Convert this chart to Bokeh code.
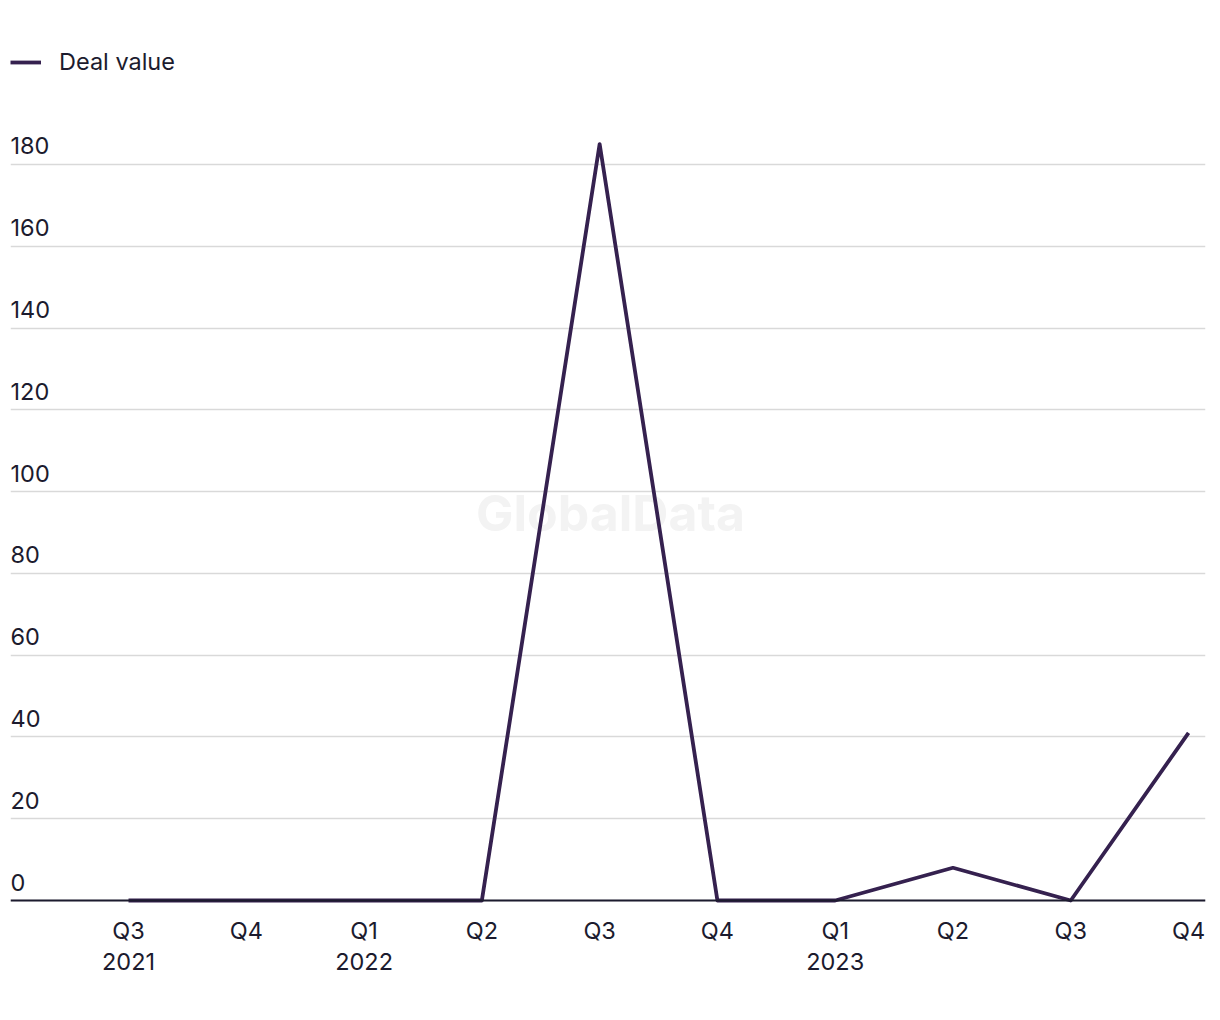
from bokeh.plotting import figure
from bokeh.models import Range1d, FixedTicker, Span, Legend, LegendItem, LabelSet, Label, ColumnDataSource
from bokeh.core.properties import value
from bokeh.embed import file_html
from bokeh.resources import INLINE

quarters = ["Q3\n2021", "Q4", "Q1\n2022", "Q2", "Q3", "Q4", "Q1\n2023", "Q2", "Q3", "Q4"]
deal_value = [0, 0, 0, 0, 185, 0, 0, 8, 0, 41]
y_ticks = [0, 20, 40, 60, 80, 100, 120, 140, 160, 180]

FONT = "Inter"
FS = "23.5px"
TXT = "#1c1b2e"
LINE = "#35214f"

xs = list(range(len(quarters)))
px_per_unit = 4.0889

p = figure(width=1220, height=1020, output_backend="svg", toolbar_location=None,
           x_range=Range1d(-1.002, 9.144),
           y_range=Range1d(-5 / px_per_unit, 880 / px_per_unit),
           min_border_left=10, min_border_right=15, min_border_top=20, min_border_bottom=115)
p.outline_line_color = None
p.background_fill_color = "white"
p.yaxis.visible = False
p.xgrid.visible = False
p.ygrid.ticker = FixedTicker(ticks=y_ticks)
p.ygrid.grid_line_color = "#d9d9d9"
p.ygrid.grid_line_width = 1.5

p.xaxis.ticker = FixedTicker(ticks=xs)
p.xaxis.major_label_overrides = {i: q for i, q in enumerate(quarters)}
p.xaxis.axis_line_color = None
p.xaxis.major_tick_line_color = None
p.xaxis.minor_tick_line_color = None
p.xaxis.major_label_text_font = FONT
p.xaxis.major_label_text_font_size = FS
p.xaxis.major_label_text_color = TXT
p.xaxis.major_label_text_line_height = 1.08
p.xaxis.major_label_standoff = 4

# watermark
p.add_layout(Label(x=600, y=393, x_units="screen", y_units="screen", text="GlobalData",
                   text_font=FONT, text_font_style="bold", text_font_size="50px",
                   text_color="#f3f3f3", text_align="center", text_baseline="middle",
                   level="underlay"))

p.add_layout(Span(location=0, dimension="width", line_color=TXT, line_width=2))

r = p.line(xs, deal_value, line_color=LINE, line_width=3.8, line_join="round")

src = ColumnDataSource(dict(y=y_ticks, t=[str(v) for v in y_ticks], x=[0] * len(y_ticks)))
p.add_layout(LabelSet(x="x", y="y", text="t", source=src, x_units="screen", y_offset=10,
                      text_font=value(FONT), text_font_size=value(FS), text_color=TXT,
                      text_align="left", text_baseline="bottom"))

legend = Legend(items=[LegendItem(label="Deal value", renderers=[r])],
                location=(0, 829), padding=0, margin=0, spacing=0,
                border_line_color=None, background_fill_alpha=0,
                glyph_width=31, glyph_height=20, label_standoff=18,
                label_text_font=FONT, label_text_font_size=FS, label_text_color=TXT)
p.add_layout(legend)

open("out.html", "w").write(file_html(p, INLINE))
